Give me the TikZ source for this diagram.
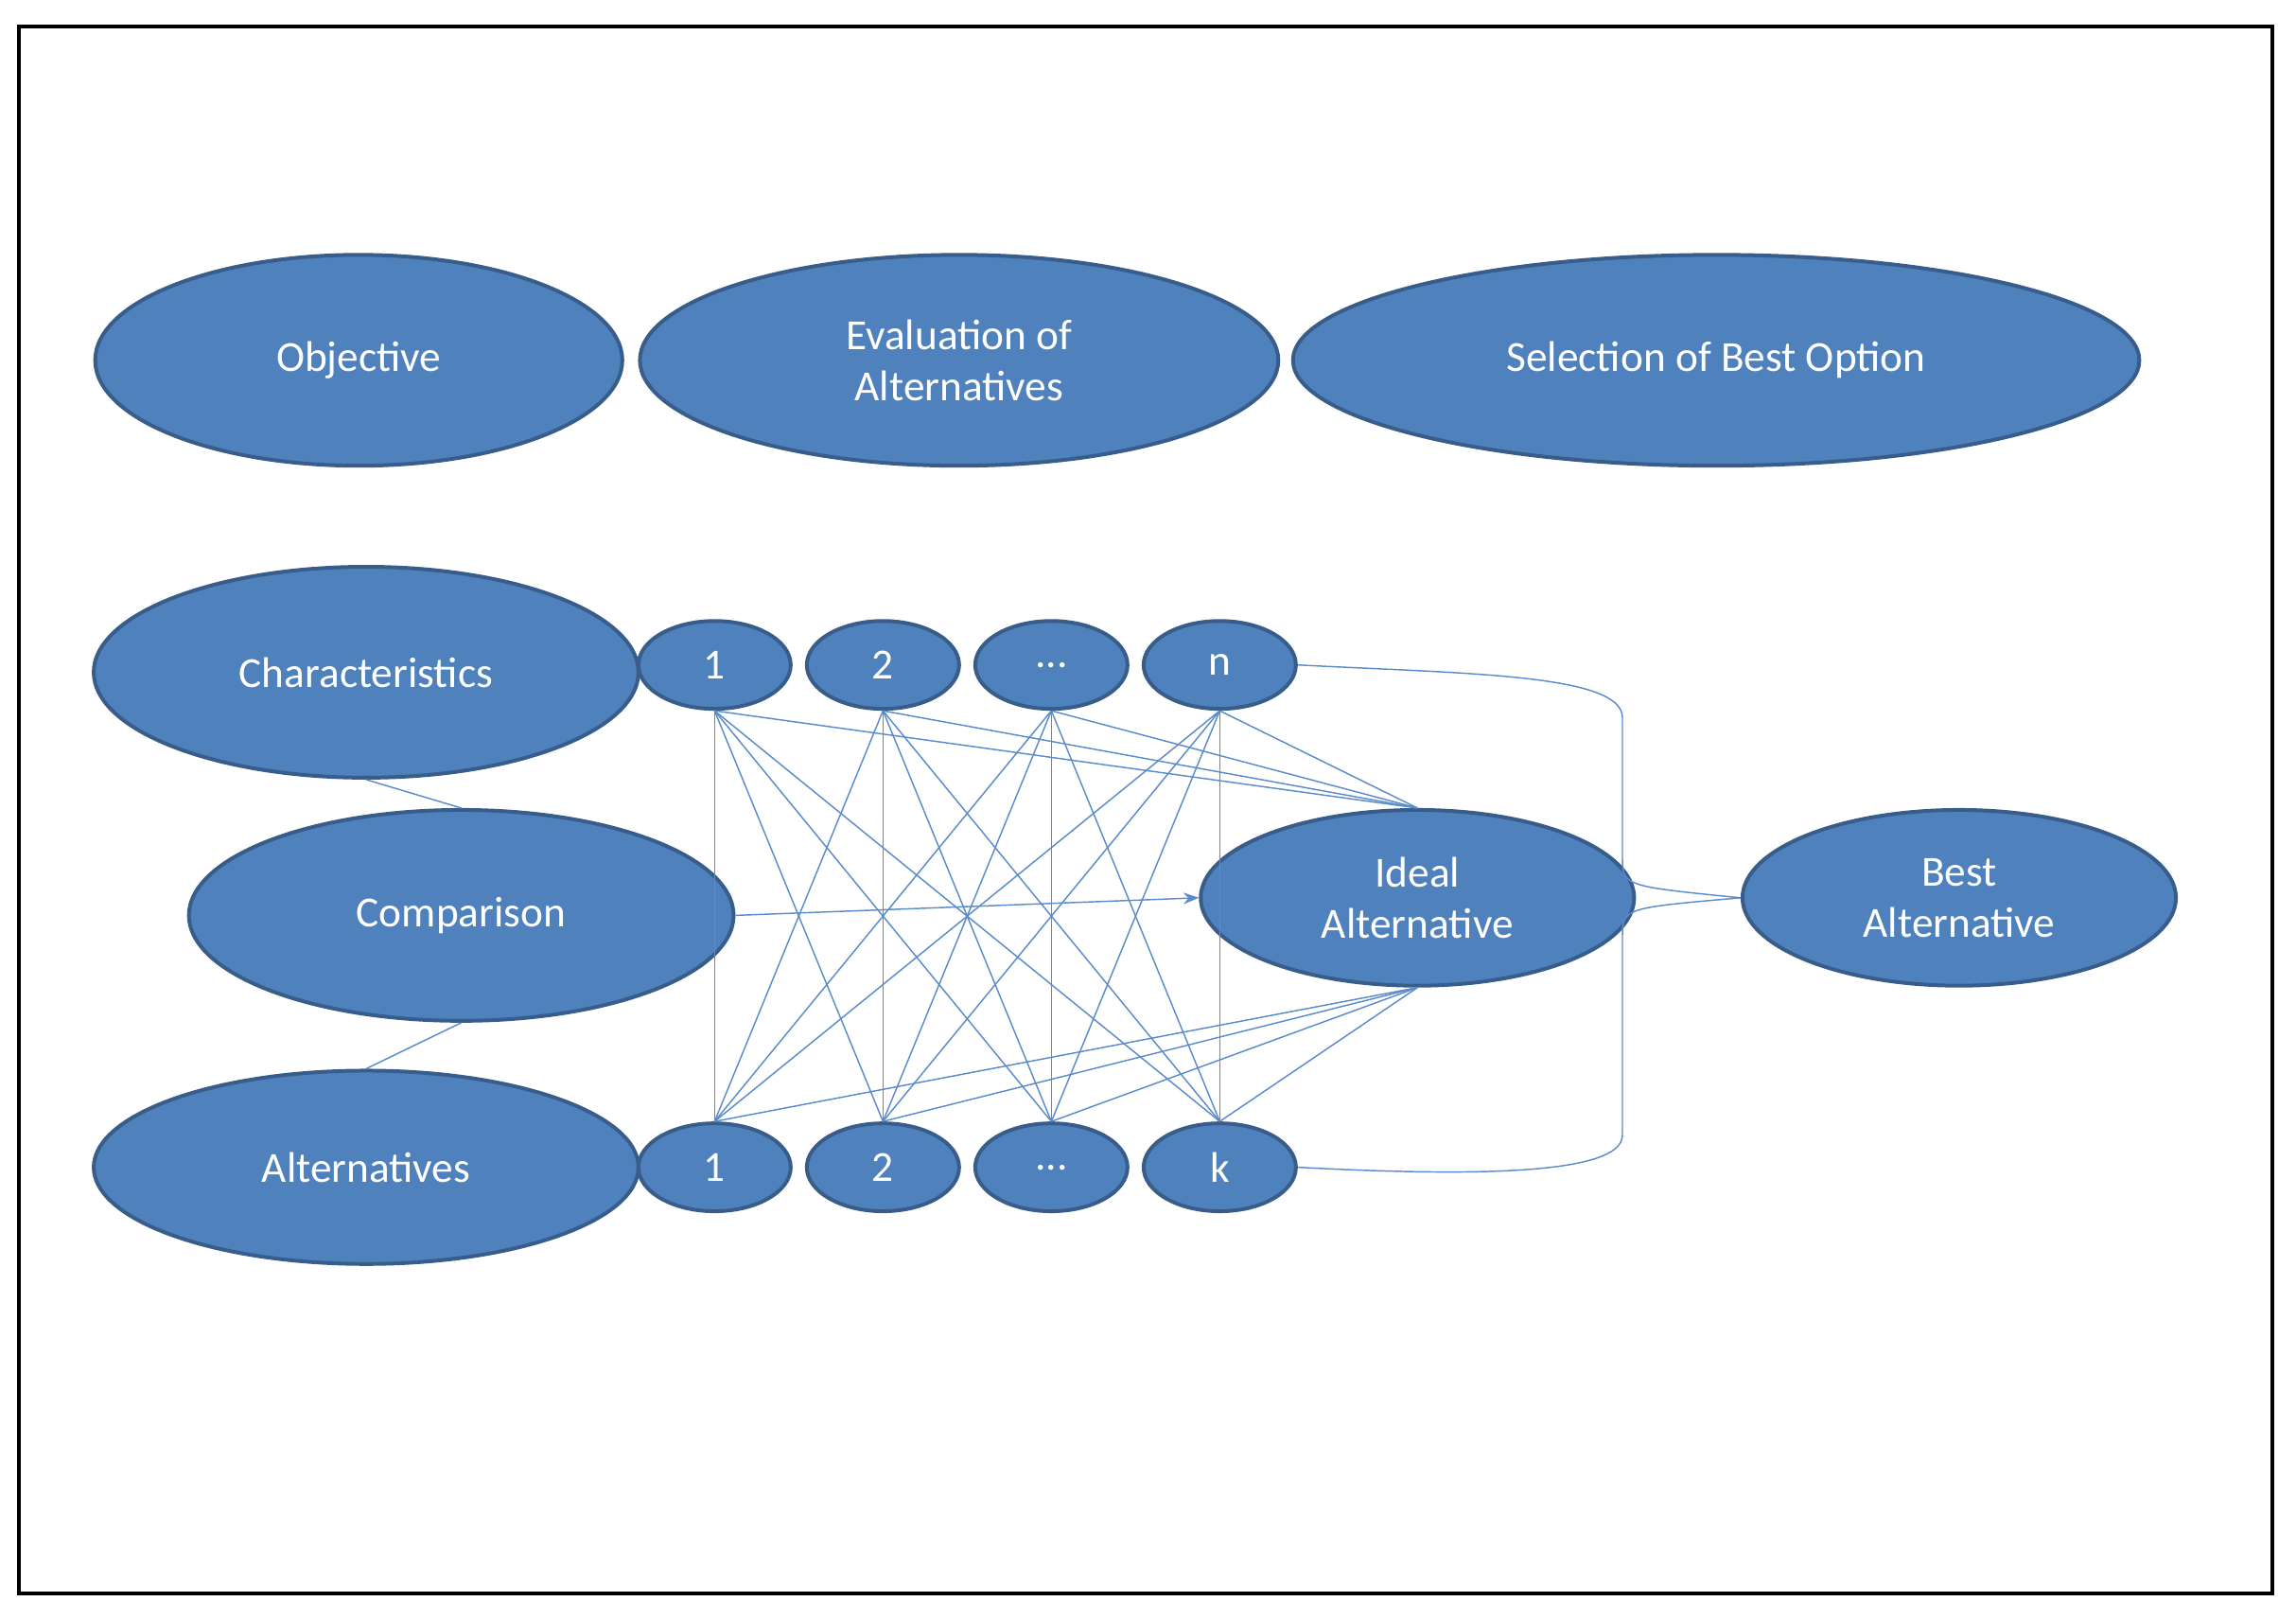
\documentclass[tikz,border=0pt]{standalone}
\usepackage{fontspec}
\setmainfont{Carlito}
\usetikzlibrary{shapes.geometric,arrows.meta}
\definecolor{fillb}{HTML}{4F81BD}
\definecolor{edgeb}{HTML}{385D8A}
\definecolor{lineb}{HTML}{5A8BCB}
\begin{document}
\begin{tikzpicture}[x=0.03cm,y=-0.03cm,
 el/.style={ellipse,draw=edgeb,line width=2.2pt,fill=fillb,text=white,inner sep=0pt,align=center,font=\fontsize{25}{30}\selectfont},
 sm/.style={el,minimum width=104*0.03cm,minimum height=60*0.03cm},
 ln/.style={draw=lineb,line width=0.8pt}]
\useasboundingbox (0,0) rectangle (1568,1105);
\draw[line width=2.2pt] (13,18) rectangle (1552,1088);
\node[el,minimum width=360*0.03cm,minimum height=144*0.03cm] (obj) at (245,246) {Objective};
\node[el,minimum width=436*0.03cm,minimum height=144*0.03cm] (eva) at (655,246) {Evaluation of\\Alternatives};
\node[el,minimum width=578*0.03cm,minimum height=144*0.03cm] (sel) at (1172,246) {Selection of Best Option};
\node[el,minimum width=372*0.03cm,minimum height=144*0.03cm] (cha) at (250,459) {Characteristics};
\node[el,minimum width=372*0.03cm,minimum height=144*0.03cm] (com) at (315,625) {Comparison};
\node[el,minimum width=372*0.03cm,minimum height=132*0.03cm] (alt) at (250,797) {Alternatives};
\node[el,minimum width=296*0.03cm,minimum height=120*0.03cm] (ide) at (968,613) {Ideal\\Alternative};
\node[el,minimum width=296*0.03cm,minimum height=120*0.03cm] (bes) at (1338,613) {Best\\Alternative};
\node[sm] (t1) at (488,454) {1};
\node[sm] (t2) at (603,454) {2};
\node[sm] (t3) at (718,454) {...};
\node[sm] (t4) at (833,454) {n};
\node[sm] (b1) at (488,797) {1};
\node[sm] (b2) at (603,797) {2};
\node[sm] (b3) at (718,797) {...};
\node[sm] (b4) at (833,797) {k};
\draw[ln] (cha.south) -- (com.north);
\draw[ln] (com.south) -- (alt.north);
\foreach \i in {1,2,3,4}{
  \foreach \j in {1,2,3,4}{ \draw[ln] (t\i.south) -- (b\j.north); }
  \draw[ln] (t\i.south) -- (ide.north);
  \draw[ln] (b\i.north) -- (ide.south);
}
\draw[ln,-{Stealth[length=9pt]}] (com.east) -- (ide.west);
\coordinate (c1) at (1108,585);
\coordinate (c2) at (1108,640);
\draw[ln] (t4.east) .. controls (1000,460) and (1108,460) .. (1108,490) -- (c1) .. controls (1108,605) .. (bes.west);
\draw[ln] (b4.east) .. controls (1000,803) and (1108,803) .. (1108,775) -- (c2) .. controls (1108,620) .. (bes.west);
\end{tikzpicture}
\end{document}
